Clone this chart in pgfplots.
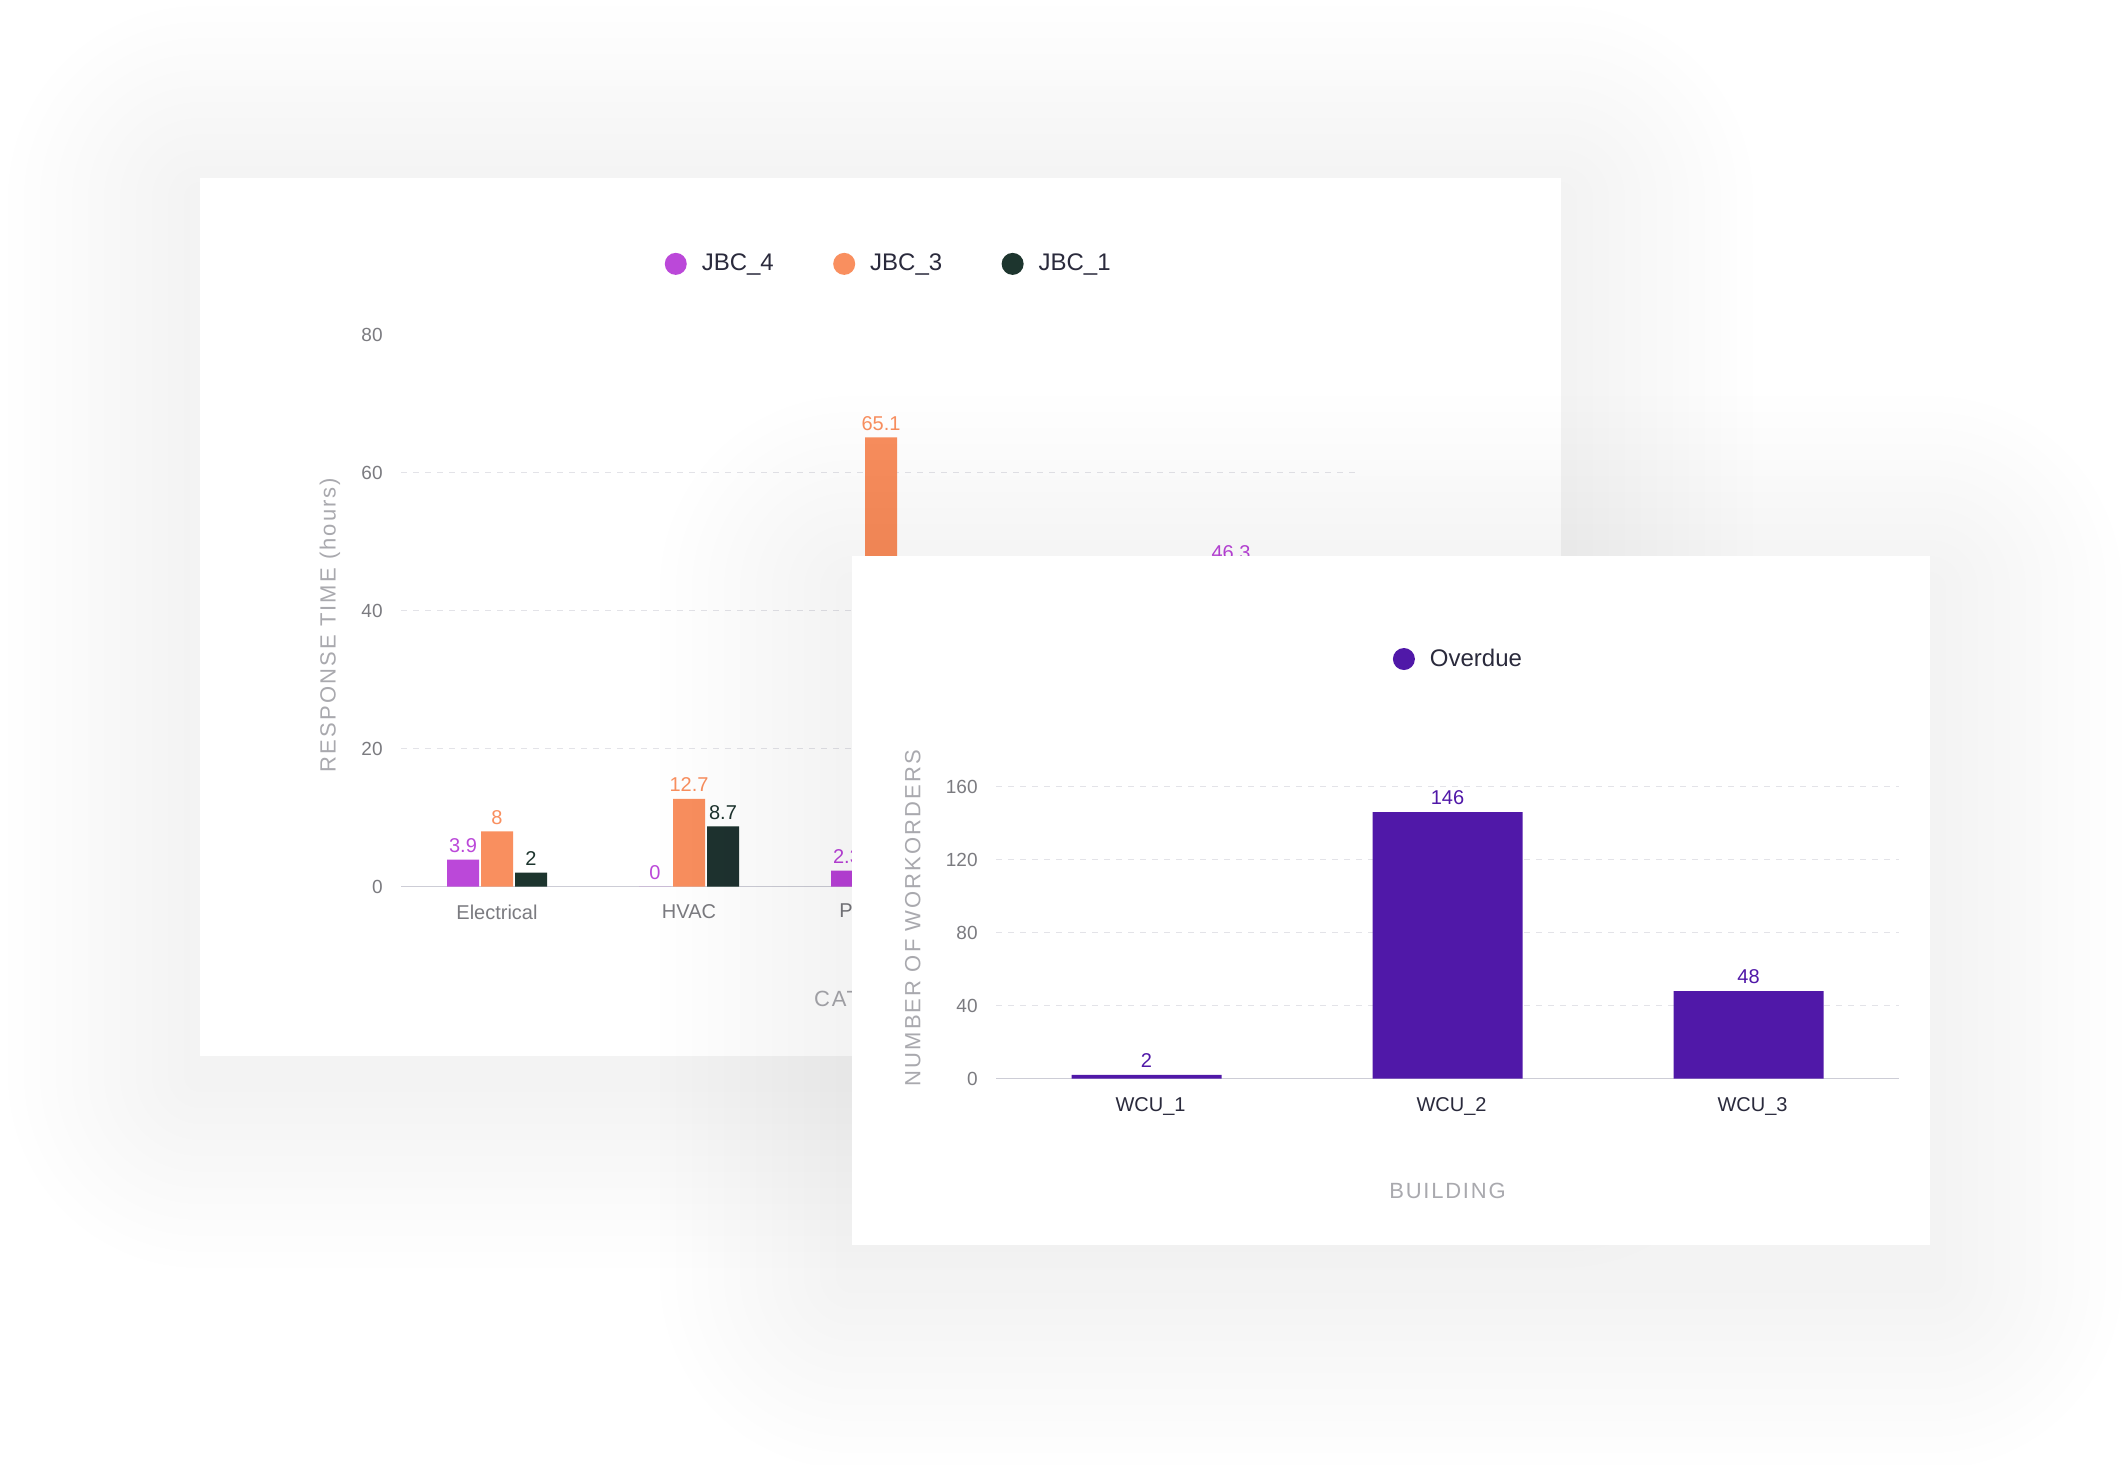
\documentclass[border=0pt]{standalone}
\usepackage{pgfplots}
\pgfplotsset{compat=1.18}
\usepackage{fontspec}
\setmainfont{Liberation Sans}
\newfontfamily\spacedy[LetterSpace=9.5]{Liberation Sans}
\newfontfamily\spacedx[LetterSpace=8]{Liberation Sans}

\definecolor{cfour}{HTML}{BB48D9}
\definecolor{cthree}{HTML}{F98F5F}
\definecolor{cone}{HTML}{1D352E}
\definecolor{cover}{HTML}{5018A8}
\definecolor{textdark}{HTML}{2A2A3C}
\definecolor{tickgray}{HTML}{7B7B80}
\definecolor{labelgray}{HTML}{A9A9AE}
\definecolor{gridgray}{HTML}{E3E3E8}
\definecolor{axisgray}{HTML}{CDCDD6}
\definecolor{shadowc}{HTML}{30304A}

% soft shadow: left, top, right, bottom (pt, y negative), downward offset
\newcommand\cardshadow[5]{%
  \foreach \i in {1,...,12}{%
    \pgfmathsetmacro\d{\i*8}
    \fill[shadowc, fill opacity=0.0045, rounded corners=\d pt]
      ({(#1-\d)*1pt},{(#2+\d-#5)*1pt}) rectangle ({(#3+\d)*1pt},{(#4-\d-#5)*1pt});
  }}

\pgfplotsset{
  cardaxis/.style={
    scale only axis,
    axis lines*=left,
    y axis line style={draw=none},
    x axis line style={draw=axisgray, line width=0.75pt},
    tick style={draw=none},
    major tick length=0pt,
    ymin=0,
    ymajorgrids,
    grid style={draw=gridgray, line width=0.6pt, dash pattern=on 3pt off 3pt},
    /pgf/number format/assume math mode=true,
    yticklabel style={font=\fontsize{9.5}{11}\selectfont, color=tickgray,
      inner sep=0pt, anchor=east, xshift=-9pt},
    xticklabel style={anchor=center, font=\fontsize{10}{12}\selectfont},
    nodes near coords,
    nodes near coords style={font=\fontsize{10}{12}\selectfont},
    ylabel style={font=\spacedy\fontsize{11}{13}\selectfont, color=labelgray, anchor=center},
    xlabel style={font=\spacedx\fontsize{11}{13}\selectfont, color=labelgray, anchor=center},
    legend style={draw=none, fill=none, anchor=center, legend columns=-1,
      font=\fontsize{12}{14}\selectfont, text=textdark, nodes={inner sep=0pt},
      /tikz/every odd column/.append style={column sep=7.5pt},
      /tikz/every even column/.append style={column sep=29.7pt}},
  }
}

\begin{document}
\begin{tikzpicture}
\fill[white] (0pt,0pt) rectangle (1064pt,-732pt);
\useasboundingbox (0pt,0pt) rectangle (1064pt,-732pt);

% back card
\cardshadow{100}{-89}{780.5}{-528}{10}
\fill[white] (100pt,-89pt) rectangle (780.5pt,-528pt);

\begin{axis}[cardaxis,
  at={(200.5pt,-443.25pt)}, anchor=south west,
  width=480pt, height=276pt,
  xmin=-0.5, xmax=4.5, ymax=80,
  ytick={0,20,40,60}, extra y ticks={80}, extra y tick style={grid=none},
  xtick={0,1,2,3,4},
  xticklabels={Electrical,HVAC,Plumbing,Safety,Structural},
  xticklabel style={color=tickgray, yshift=-12.75pt},
  ybar=1pt, bar width=16pt,
  ylabel={RESPONSE TIME (hours)},
  ylabel style={at={(axis description cs:-0.074,0.474)}},
  xlabel={CATEGORY},
  xlabel style={at={(axis description cs:0.5,-0.204)}},
  legend style={at={(axis description cs:0.507,1.128)}},
]
\addplot[fill=cfour, draw=none, nodes near coords style={color=cfour},
  legend image code/.code={\fill[cfour] (0pt,0pt) circle (5.5pt);}]
  coordinates {(0,3.9) (1,0) (2,2.3) (3,4.8) (4,46.3)};
\addlegendentry{JBC\_4}
\addplot[fill=cthree, draw=none, nodes near coords style={color=cthree},
  legend image code/.code={\fill[cthree] (0pt,0pt) circle (5.5pt);}]
  coordinates {(0,8) (1,12.7) (2,65.1) (3,14.2) (4,21.5)};
\addlegendentry{JBC\_3}
\addplot[fill=cone, draw=none, nodes near coords style={color=cone},
  legend image code/.code={\fill[cone] (0pt,0pt) circle (5.5pt);}]
  coordinates {(0,2) (1,8.7) (2,11.4) (3,6.1) (4,9.2)};
\addlegendentry{JBC\_1}
\draw[axisgray, line width=0.75pt] (rel axis cs:0,0) -- ++(0pt,-6pt);
\end{axis}

% front card
\cardshadow{426}{-278}{965}{-622.5}{16}
\fill[white] (426pt,-278pt) rectangle (965pt,-622.5pt);

\begin{axis}[cardaxis,
  at={(498pt,-539.3pt)}, anchor=south west,
  width=451.5pt, height=146pt,
  xmin=-0.5, xmax=2.5, ymax=160,
  ytick={0,40,80,120,160},
  xtick={0,1,2},
  xticklabels={WCU\_1,WCU\_2,WCU\_3},
  xticklabel style={color=textdark, yshift=-13.7pt, xshift=2pt},
  ybar, bar width=75pt,
  ylabel={NUMBER OF WORKORDERS},
  ylabel style={at={(axis description cs:-0.0921,0.55)}},
  xlabel={BUILDING},
  xlabel style={at={(axis description cs:0.5,-0.385)}},
  legend style={at={(axis description cs:0.511,1.437)}},
]
\addplot[fill=cover, draw=none, nodes near coords style={color=cover},
  legend image code/.code={\fill[cover] (0pt,0pt) circle (5.5pt);}]
  coordinates {(0,2) (1,146) (2,48)};
\addlegendentry{Overdue}
\draw[axisgray, line width=0.75pt] (rel axis cs:0,0) -- ++(0pt,-6pt);
\draw[axisgray, line width=0.75pt] (rel axis cs:1,0) -- ++(0pt,-6pt);
\end{axis}
\end{tikzpicture}
\end{document}
